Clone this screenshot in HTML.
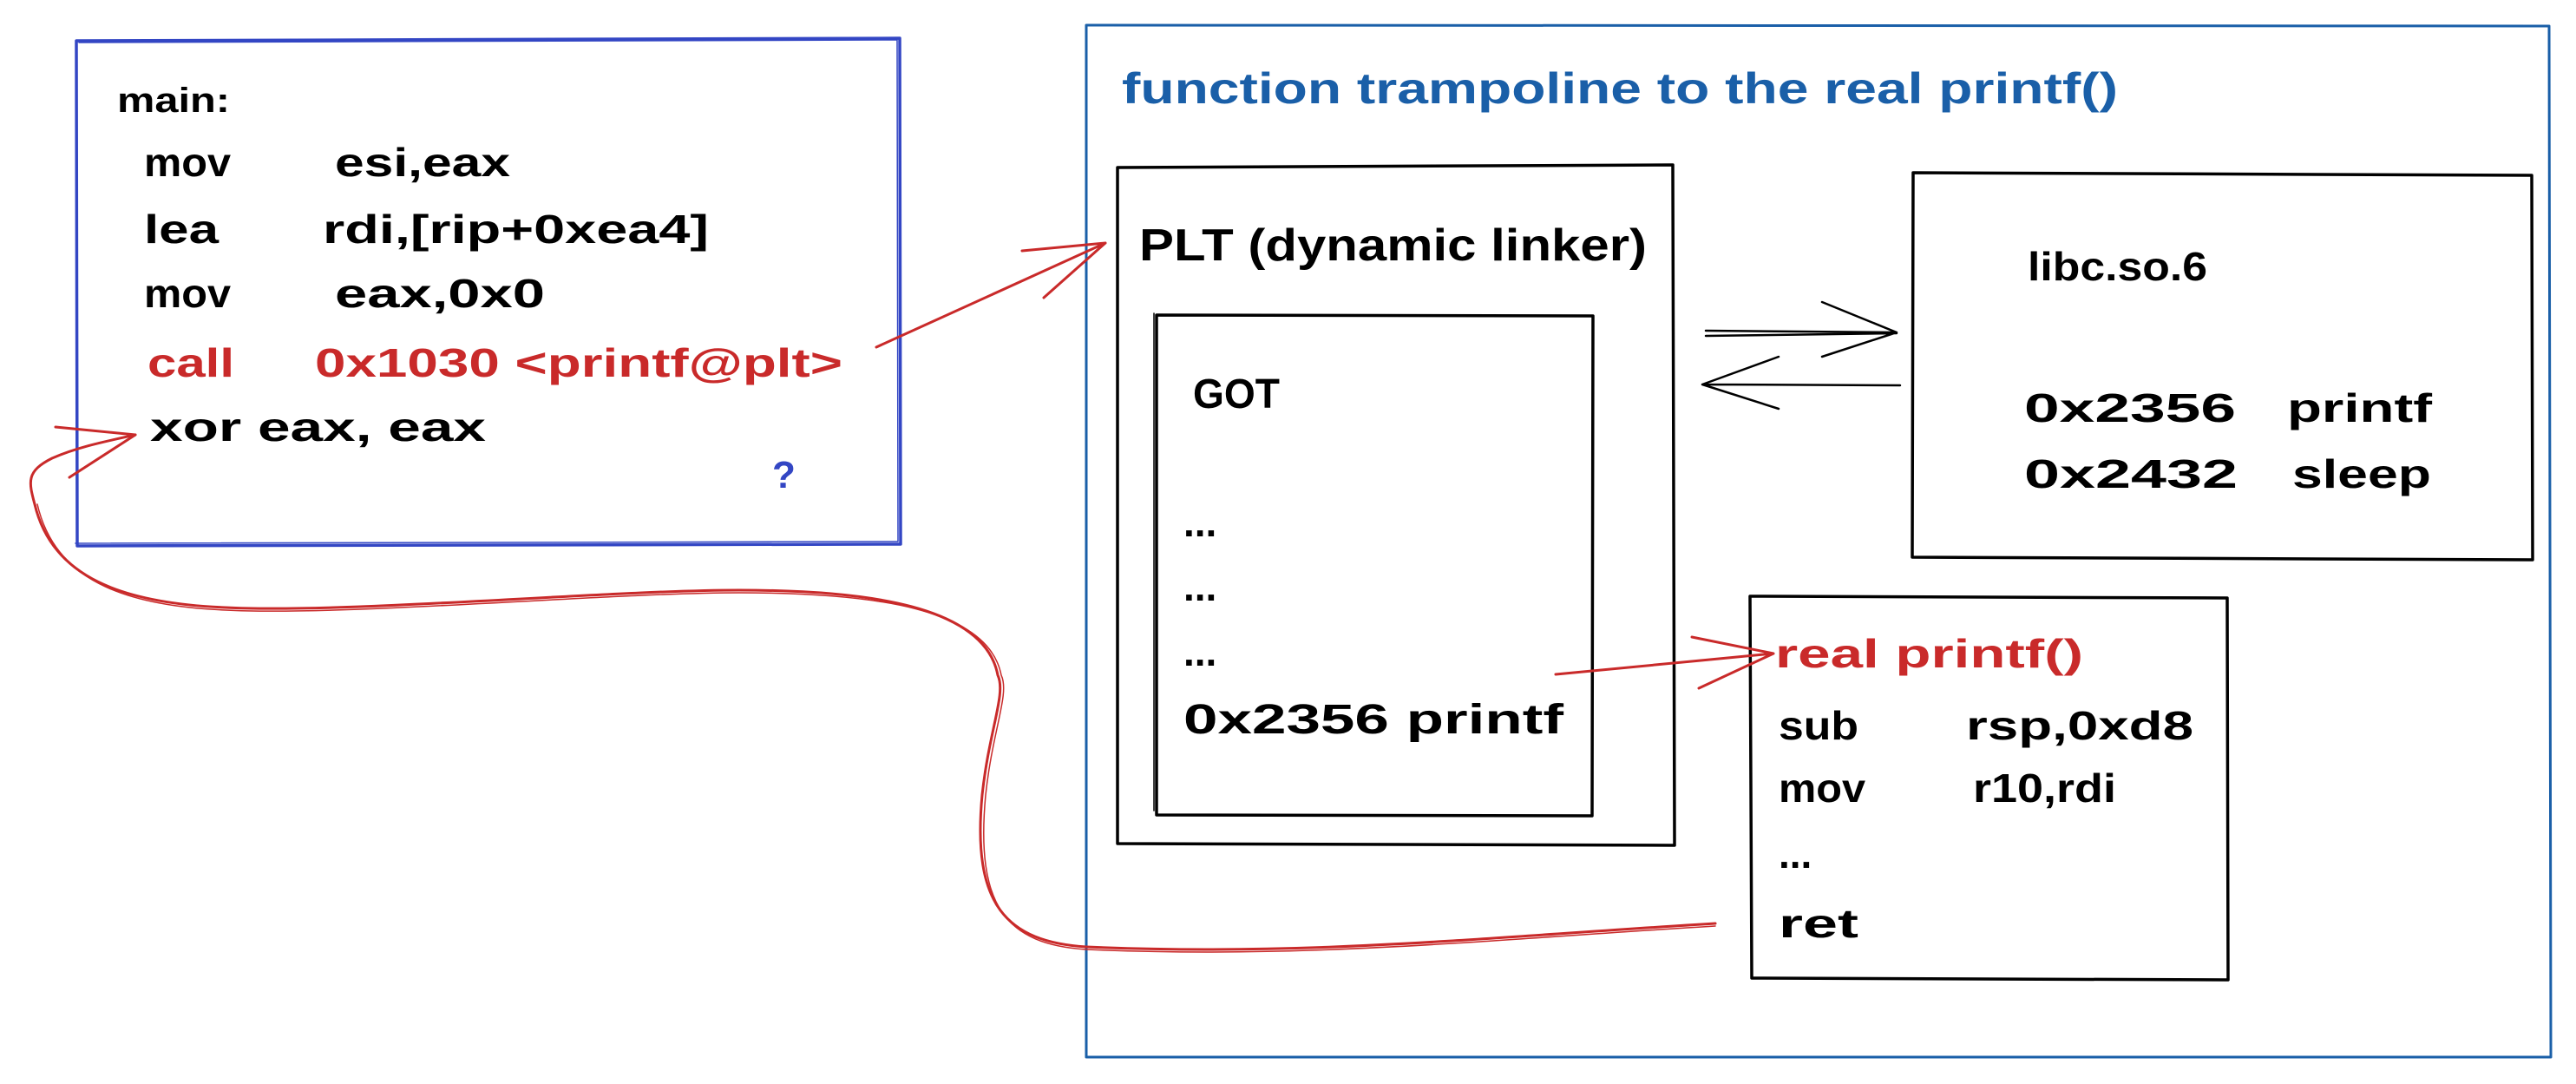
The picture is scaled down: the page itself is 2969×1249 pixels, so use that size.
<!DOCTYPE html>
<html><head><meta charset="utf-8"><style>
html,body{margin:0;padding:0;background:#fff;width:2969px;height:1249px;overflow:hidden}
svg text{font-family:"Liberation Sans",sans-serif}
</style></head><body>
<svg width="2969" height="1249" viewBox="0 0 2969 1249" xmlns="http://www.w3.org/2000/svg">
<g fill="none" stroke-linecap="round" stroke-linejoin="round">
<path d="M88 47 L1037 44 L1038 627 L89 629 Z" stroke="#3346c4" stroke-width="3.5"/>
<path d="M91 49 L1034 46 L1035 624 L87 626" stroke="#3346c4" stroke-width="1.5"/>
<path d="M1252 29 L2938 30 L2940 1218 L1252 1218 Z" stroke="#1a5fa8" stroke-width="3"/>
<path d="M1288 193 L1928 190 L1930 974 L1288 972 Z" stroke="#000" stroke-width="3.5"/>
<path d="M1333 363 L1836 364 L1835 940 L1333 939 Z" stroke="#000" stroke-width="3.5"/>
<path d="M1330 361 L1330 934" stroke="#000" stroke-width="1.5"/>
<path d="M2205 199 L2918 202 L2919 645 L2204 642 Z" stroke="#000" stroke-width="3.5"/>
<path d="M2017 687 L2567 689 L2568 1129 L2019 1127 Z" stroke="#000" stroke-width="3.5"/>
<path d="M1966 381 L2186 383 M1966 387 L2186 384 M2100 348 L2186 383 L2100 411" stroke="#000" stroke-width="2.5"/>
<path d="M2190 444 L1962 443 M1962 443 L2050 411 M1962 443 L2050 471" stroke="#000" stroke-width="2.5"/>
<path d="M1010 400 L1274 280 M1178 289 L1274 280 M1203 343 L1274 280" stroke="#c92a2a" stroke-width="3"/>
<path d="M1793 777 L2044 753 M1950 734 L2044 753 M1958 793 L2044 753" stroke="#c92a2a" stroke-width="3"/>
<path d="M1977 1064 C1700 1081 1500 1102 1252 1091 C1160 1085 1120 1043 1132 916 C1140 841 1160 799 1150 778 C1135 698 1000 680 852 680 C700 680 400 707 260 700 C140 695 60 665 40 581 C33 555 30 543 60 528 C90 515 120 509 156 501" stroke="#c92a2a" stroke-width="3"/>
<path d="M1977 1067 C1700 1084 1500 1105 1252 1094 C1160 1088 1124 1045 1136 916 C1144 841 1164 799 1154 778 C1139 700 1004 683 852 683 C700 683 400 710 260 703 C140 698 63 667 43 581" stroke="#c92a2a" stroke-width="1.5"/>
<path d="M64 492 L156 501 L80 550" stroke="#c92a2a" stroke-width="3"/>
</g>
<g font-size="46" fill="#000" font-weight="bold">
<text x="135" y="129" font-size="40" textLength="130" lengthAdjust="spacingAndGlyphs">main:</text>
<text x="166" y="203" textLength="100" lengthAdjust="spacingAndGlyphs">mov</text>
<text x="386" y="203" textLength="202" lengthAdjust="spacingAndGlyphs">esi,eax</text>
<text x="166" y="280" textLength="86" lengthAdjust="spacingAndGlyphs">lea</text>
<text x="372" y="280" textLength="445" lengthAdjust="spacingAndGlyphs">rdi,[rip+0xea4]</text>
<text x="166" y="354" textLength="100" lengthAdjust="spacingAndGlyphs">mov</text>
<text x="386" y="354" textLength="242" lengthAdjust="spacingAndGlyphs">eax,0x0</text>
<text x="170" y="434" fill="#c92a2a" textLength="100" lengthAdjust="spacingAndGlyphs">call</text>
<text x="363" y="434" fill="#c92a2a" textLength="608" lengthAdjust="spacingAndGlyphs">0x1030 &lt;printf@plt&gt;</text>
<text x="173" y="508" textLength="387" lengthAdjust="spacingAndGlyphs">xor eax, eax</text>
<text x="890" y="562" fill="#3346c4" font-size="44">?</text>
<text x="1293" y="119" fill="#1a5fa8" font-size="50" textLength="1148" lengthAdjust="spacingAndGlyphs">function trampoline to the real printf()</text>
<text x="1313" y="300" font-size="52" textLength="585" lengthAdjust="spacingAndGlyphs">PLT (dynamic linker)</text>
<text x="1375" y="470" font-size="48" textLength="100" lengthAdjust="spacingAndGlyphs">GOT</text>
<text x="1364" y="618">...</text>
<text x="1364" y="692">...</text>
<text x="1364" y="767">...</text>
<text x="1364" y="845" font-size="48" textLength="438" lengthAdjust="spacingAndGlyphs">0x2356 printf</text>
<text x="2337" y="323" textLength="207" lengthAdjust="spacingAndGlyphs">libc.so.6</text>
<text x="2333" y="486" textLength="244" lengthAdjust="spacingAndGlyphs">0x2356</text>
<text x="2636" y="486" textLength="167" lengthAdjust="spacingAndGlyphs">printf</text>
<text x="2333" y="562" textLength="246" lengthAdjust="spacingAndGlyphs">0x2432</text>
<text x="2642" y="562" textLength="160" lengthAdjust="spacingAndGlyphs">sleep</text>
<text x="2046" y="769" fill="#c92a2a" textLength="355" lengthAdjust="spacingAndGlyphs">real printf()</text>
<text x="2050" y="852" textLength="92" lengthAdjust="spacingAndGlyphs">sub</text>
<text x="2266" y="852" textLength="262" lengthAdjust="spacingAndGlyphs">rsp,0xd8</text>
<text x="2050" y="924" textLength="100" lengthAdjust="spacingAndGlyphs">mov</text>
<text x="2274" y="924" textLength="165" lengthAdjust="spacingAndGlyphs">r10,rdi</text>
<text x="2050" y="1000">...</text>
<text x="2050" y="1080" textLength="92" lengthAdjust="spacingAndGlyphs">ret</text>
</g>
</svg>
</body></html>
